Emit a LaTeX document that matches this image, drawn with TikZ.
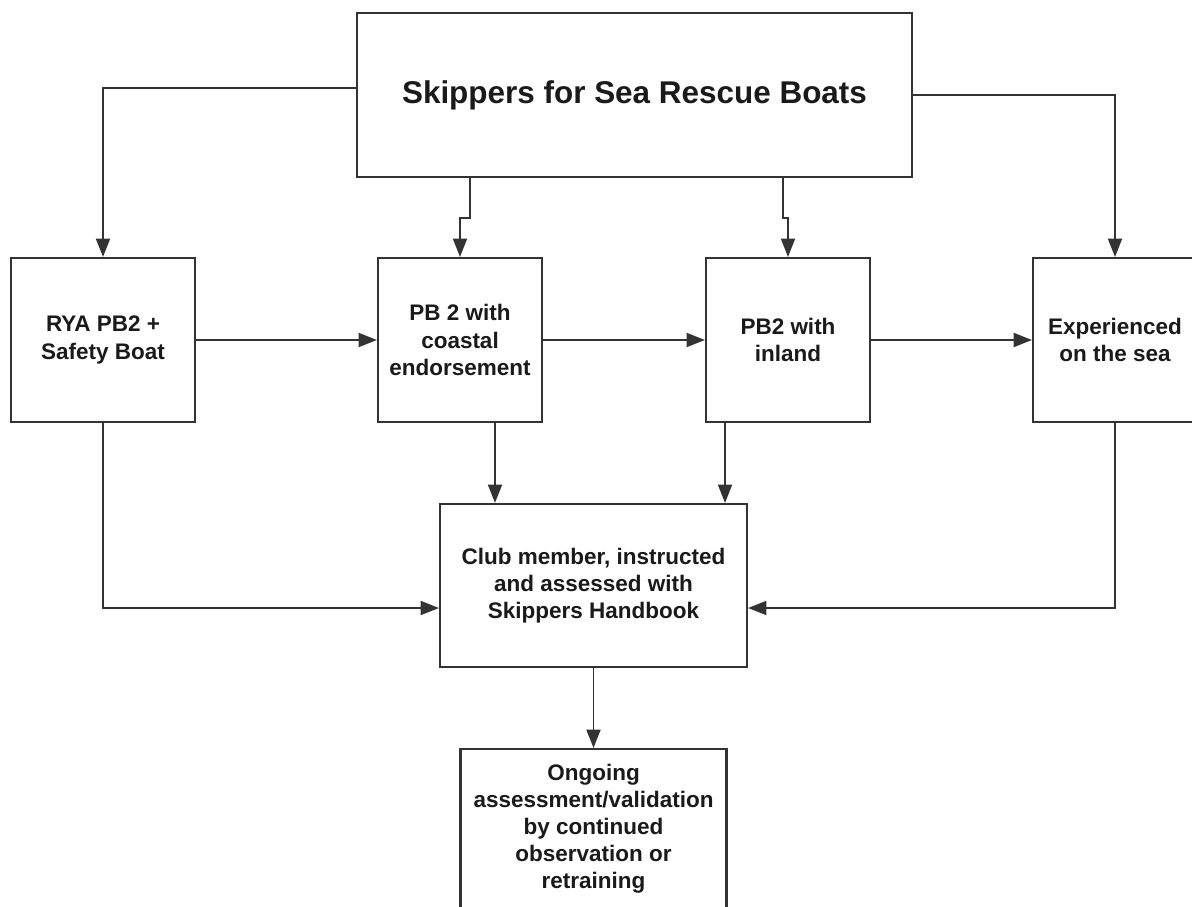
\documentclass[tikz,border=0pt]{standalone}
\usepackage{fontspec}
\setmainfont{Liberation Sans}
\usetikzlibrary{arrows.meta}
\definecolor{linec}{HTML}{333333}
\definecolor{textc}{HTML}{1A1A1A}
\tikzset{
  box/.style={draw=linec, line width=1.2pt, rectangle, align=center, text=textc,
    font=\bfseries\fontsize{12.8}{15.4}\selectfont, inner sep=0pt},
  arr/.style={draw=linec, line width=1.1pt, -{Triangle[length=10.5pt,width=8pt]}},
}
\begin{document}
\begin{tikzpicture}[x=0.02cm,y=-0.02cm]
\useasboundingbox (0,0) rectangle (1192,906);
\clip (0,0) rectangle (1192,906);
\fill[white] (0,0) rectangle (1192,906);
\node[box, minimum width=11.1cm, minimum height=3.28cm, font=\bfseries\fontsize{17.9}{21}\selectfont] (top) at (634.5,95) {\raisebox{0.1cm}{Skippers for Sea Rescue Boats}};
\node[box, minimum width=3.68cm, minimum height=3.28cm] (rya) at (103,340) {RYA PB2 +\\Safety Boat};
\node[box, minimum width=3.28cm, minimum height=3.28cm] (coastal) at (460,340) {PB 2 with\\coastal\\endorsement};
\node[box, minimum width=3.28cm, minimum height=3.28cm] (inland) at (788,340) {PB2 with\\inland};
\node[box, minimum width=3.28cm, minimum height=3.28cm] (exp) at (1115,340) {Experienced\\on the sea};
\node[box, minimum width=6.14cm, minimum height=3.26cm] (club) at (593.5,585.5) {Club member, instructed\\and assessed with\\Skippers Handbook};
\node[box, minimum width=5.32cm, minimum height=3.2cm] (ongo) at (593.5,829) {Ongoing\\assessment/validation\\by continued\\observation or\\retraining};
% connectors from title
\draw[arr] ([yshift=0.14cm]top.west) -| (rya.north);
\draw[arr] (top.east) -| (exp.north);
\draw[arr] ([xshift=-3.29cm]top.south) -- ++(0,40) -| (coastal.north);
\draw[arr] ([xshift=2.97cm]top.south) -- ++(0,40) -| (inland.north);
% horizontal chain
\draw[arr] (rya.east) -- (coastal.west);
\draw[arr] (coastal.east) -- (inland.west);
\draw[arr] (inland.east) -- (exp.west);
% down to club
\draw[arr] ([xshift=0.7cm]coastal.south) coordinate (c1) -- (c1 |- club.north);
\draw[arr] ([xshift=-1.26cm]inland.south) coordinate (c2) -- (c2 |- club.north);
\draw[arr] (rya.south) |- ([yshift=-0.45cm]club.west);
\draw[arr] (exp.south) |- ([yshift=-0.45cm]club.east);
\draw[arr] (club.south) -- (ongo.north);
\end{tikzpicture}
\end{document}
